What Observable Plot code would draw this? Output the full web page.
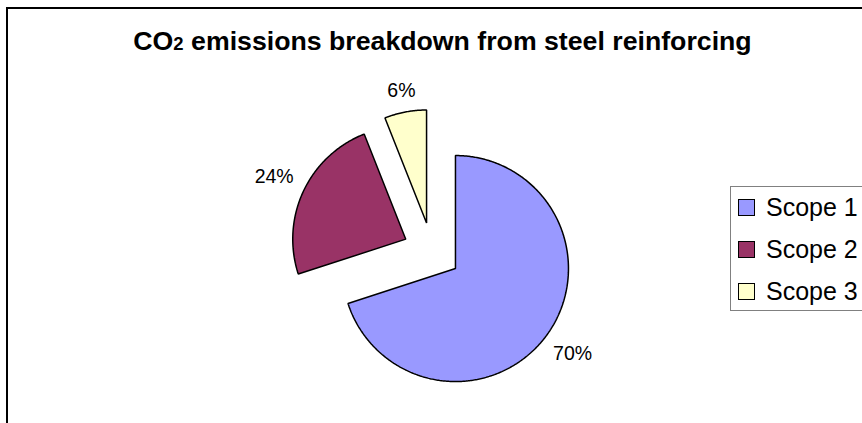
<!DOCTYPE html>
<html>
<head>
<meta charset="utf-8">
<script src="https://cdn.jsdelivr.net/npm/d3@7"></script>
<script src="https://cdn.jsdelivr.net/npm/@observablehq/plot@0.6"></script>
<style>
  body { margin: 0; background: #fff; font-family: Arial, "Liberation Sans", sans-serif; }
  #wrap { position: relative; width: 862px; height: 423px; overflow: hidden; background: #fff; }
  #frame { position: absolute; left: 6px; top: 7px; width: 900px; height: 500px; border: 2px solid #000; box-sizing: border-box; }
  #chart { position: absolute; left: 0; top: 0; }
  #title { position: absolute; left: 0; width: 885px; top: 26px; text-align: center; font-weight: bold; font-size: 26.7px; color: #000; white-space: nowrap; }
  #title .sub { font-size: 18.5px; }
  #legend { position: absolute; left: 730px; top: 186px; width: 200px; height: 125px; border: 1px solid #808080; box-sizing: border-box; }
  .item { position: absolute; left: 7px; height: 30px; display: flex; align-items: center; font-size: 25px; color: #000; white-space: nowrap; }
  .sw { width: 17px; height: 17px; border: 1.5px solid #000; box-sizing: border-box; margin-right: 11px; }
</style>
</head>
<body>
<div id="wrap">
  <div id="frame"></div>
  <div id="chart"></div>
  <div id="title">CO<span class="sub">2</span> emissions breakdown from steel reinforcing</div>
  <div id="legend"></div>
</div>
<script>
// ---- data ----
const categories = ["Scope 1", "Scope 2", "Scope 3"];
const values = [70, 24, 6];
const labels = ["70%", "24%", "6%"];
const colors = ["#9999FF", "#993366", "#FFFFCC"];

// ---- geometry (pixel units around pie centre) ----
const W = 862, H = 423;
const cx = 431.5, cy = 251;
const R = 113, explode = 29;
const labelFont = 19.5;

const pie = d3.pie().sort(null).value(d => d)(values);

const sliceMarks = [];
const labelData = [];
pie.forEach((p, i) => {
  const mid = (p.startAngle + p.endAngle) / 2;
  const ox = explode * Math.sin(mid), oy = -explode * Math.cos(mid);
  const pts = [{x: ox, y: oy}];
  const n = Math.max(8, Math.ceil((p.endAngle - p.startAngle) / 0.01));
  for (let k = 0; k <= n; k++) {
    const a = p.startAngle + (p.endAngle - p.startAngle) * k / n;
    pts.push({x: ox + R * Math.sin(a), y: oy - R * Math.cos(a)});
  }
  sliceMarks.push(Plot.line(pts, {x: "x", y: "y", curve: "linear-closed", fill: colors[i], stroke: "#000", strokeWidth: 1.5, strokeLinejoin: "miter"}));
  const ux = Math.sin(mid), uy = -Math.cos(mid);
  const halfW = labels[i].length * 0.33 * labelFont, halfH = 7;
  const d = R + explode + 12 + Math.abs(ux) * halfW + Math.abs(uy) * halfH;
  labelData.push({x: ux * d, y: uy * d, text: labels[i]});
});

const chart = Plot.plot({
  width: W, height: H,
  margin: 0,
  style: {background: "transparent", overflow: "visible"},
  x: {domain: [-cx, W - cx], range: [0, W], axis: null},
  y: {domain: [-cy, H - cy], range: [0, H], axis: null},
  marks: [
    ...sliceMarks,
    Plot.text(labelData, {x: "x", y: "y", text: "text", fontSize: labelFont, fill: "#000", textAnchor: "middle", lineAnchor: "middle", fontFamily: "Arial, 'Liberation Sans', sans-serif"})
  ]
});
document.getElementById("chart").appendChild(chart);

// ---- legend ----
const legend = document.getElementById("legend");
categories.forEach((c, i) => {
  const it = document.createElement("div");
  it.className = "item";
  it.style.top = (5.5 + i * 42) + "px";
  it.innerHTML = `<span class="sw" style="background:${colors[i]}"></span><span>${c}</span>`;
  legend.appendChild(it);
});
</script>
</body>
</html>
